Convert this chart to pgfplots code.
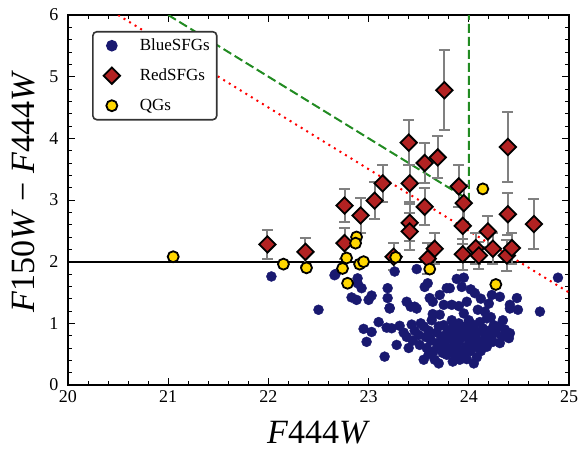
\documentclass[border=0pt]{standalone}
\usepackage{fontspec}
\setmainfont{Liberation Serif}
\usepackage{pgfplots}
\pgfplotsset{compat=1.18}
\definecolor{navyblue}{HTML}{191970}
\definecolor{firebrick}{HTML}{B22222}
\definecolor{goldc}{HTML}{FFD700}
\definecolor{forestg}{HTML}{228B22}
\pgfplotstableread{
x y ey
21.99 2.28 0.23
22.37 2.16 0.23
22.76 2.30 0.25
22.76 2.91 0.27
22.92 2.75 0.28
23.06 2.99 0.30
23.14 3.27 0.30
23.25 2.08 0.22
23.40 3.93 0.37
23.41 3.27 0.30
23.41 2.63 0.30
23.41 2.49 0.30
23.56 3.60 0.33
23.56 2.89 0.30
23.59 2.05 0.25
23.66 2.21 0.25
23.69 3.69 0.34
23.756 4.78 0.65
23.90 3.22 0.34
23.95 2.95 0.30
23.94 2.58 0.30
23.94 2.12 0.25
24.07 2.22 0.25
24.10 2.10 0.22
24.19 2.49 0.25
24.24 2.21 0.25
24.38 2.10 0.25
24.43 2.22 0.25
24.39 3.86 0.57
24.39 2.77 0.34
24.65 2.61 0.41
}\redtab
\pgfplotstableread{
x y
21.05 2.08
22.15 1.96
22.38 1.90
22.78 2.06
22.74 1.89
22.79 1.65
22.88 2.40
22.87 2.30
22.91 1.96
22.95 2.00
23.27 2.07
23.61 1.88
24.14 3.18
24.27 1.63
}\qgtab
\begin{document}
\begin{tikzpicture}
\path[use as bounding box] (-68pt,-67pt) rectangle (518pt,385pt);
\begin{axis}[
  name=ax,
  scale only axis,
  width=501pt, height=370pt,
  xmin=20, xmax=25, ymin=0, ymax=6,
  xtick={20,21,22,23,24,25},
  ytick={0,1,2,3,4,5,6},
  minor x tick num=4, minor y tick num=4,
  tick align=inside,
  xtick pos=both, ytick pos=both,
  major tick length=7pt, minor tick length=4pt,
  every tick/.style={black, line width=1pt},
  axis line style={black, line width=1.3pt},
  /pgf/number format/assume math mode=true,
  tick label style={font=\fontsize{18}{18}\selectfont},
  xticklabel style={yshift=-2pt},
  yticklabel style={xshift=-6pt},
  xlabel={\textit{F}444\textit{W}},
  ylabel={\textit{F}150\textit{W} − \textit{F}444\textit{W}},
  label style={font=\fontsize{34}{34}\selectfont},
  xlabel style={at={(axis description cs:0.5,-0.159)}, anchor=base},
  ylabel style={at={(axis description cs:-0.066,0.523)}, anchor=base, rotate=0},
  legend cell align=left,
  legend image code/.code={%
    \path[draw=none, fill=none] (0pt,-9pt) rectangle (40pt,9pt);
    \draw[#1] plot coordinates {(13pt,0pt)};},
  legend style={at={(rel axis cs:0.048,0.957)}, anchor=north west,
    draw=black!80, line width=1.6pt, rounded corners=4pt, fill=white,
    font=\fontsize{17}{17}\selectfont, row sep=12pt, inner xsep=6pt, inner ysep=5pt,
    nodes={inner xsep=1pt}},
]
\addplot[black, line width=1.8pt, forget plot] coordinates {(20,2) (25,2)};
\addplot[red, line width=2pt, dash pattern=on 2pt off 4.5pt, forget plot] coordinates {(20.5,6) (25,1.5)};
\addplot[forestg, line width=2pt, dash pattern=on 9pt off 4pt, forget plot] coordinates {(21,6) (24,3) (24,6)};
\addplot[only marks, mark=*, mark size=5pt, draw=navyblue, fill=navyblue, mark options={draw=navyblue, fill=navyblue}] coordinates {
(22.03,1.76) (22.50,1.22) (22.66,1.78) (22.67,1.80) (22.89,1.73) (22.93,1.57) (22.89,1.65)
(23.26,1.84) (23.48,1.88) (23.19,1.57) (22.83,1.42) (22.88,1.38) (23.00,1.38) (23.03,1.45)
(23.19,1.41) (23.21,1.25) (23.38,1.35) (23.46,1.27) (23.56,1.59) (23.59,1.65) (23.61,1.41)
(23.64,1.35) (23.71,1.46) (23.75,1.30) (23.78,1.57) (23.88,1.72) (23.95,1.74) (23.93,1.59)
(24.06,1.49) (24.23,1.46) (24.31,1.43) (24.48,1.41) (24.41,1.30) (24.89,1.74) (23.81,1.57)
(23.83,1.30) (24.09,1.22) (24.16,1.19) (24.49,1.22) (24.71,1.19)
(23.21,1.24) (23.48,1.24) (23.42,1.27) (23.10,1.02) (22.95,0.91) (23.03,0.86) (22.98,0.70)
(23.18,0.93) (23.23,0.92) (23.31,0.96) (23.43,0.98) (23.38,0.78) (23.28,0.65) (23.16,0.46)
(23.50,0.81) (23.51,0.65) (23.61,0.76) (23.58,0.60) (23.55,0.41) (23.66,0.41) (23.63,1.05)
(23.71,1.14) (23.75,0.97) (23.78,0.84) (23.68,0.68) (23.76,0.70) (23.78,0.49)
(23.95,1.16) (24.18,1.08) (24.34,1.05) (24.41,1.24) (24.41,0.84) (24.40,0.76) (24.31,0.68)
(24.23,0.81) (24.13,0.65) (24.01,0.70) (23.95,0.49) (23.91,0.41) (23.85,0.97) (23.88,0.92)
(24.05,0.92) (24.15,0.86) (24.25,0.97) (23.85,0.65) (23.86,0.49)
(23.55,0.95) (23.60,0.88) (23.62,0.72) (23.65,0.55) (23.68,0.85) (23.70,0.95) (23.72,0.62)
(23.73,0.78) (23.74,0.52) (23.77,0.60) (23.80,0.88) (23.81,0.75) (23.82,0.58) (23.83,1.05)
(23.84,0.38) (23.87,0.80) (23.88,0.60) (23.90,0.70) (23.90,1.00) (23.92,0.85) (23.93,0.55)
(23.95,0.78) (23.96,0.95) (23.97,0.62) (23.98,0.42) (24.00,0.85) (24.00,1.05) (24.02,0.55)
(24.03,0.75) (24.04,0.98) (24.06,0.62) (24.08,0.85) (24.08,0.45) (24.10,0.72) (24.11,1.02)
(24.12,0.55) (24.14,0.92) (24.16,0.75) (24.18,0.62) (24.20,0.88) (24.22,1.10) (24.24,0.70)
(24.27,0.85) (24.30,0.95) (24.33,0.78) (24.36,0.90) (23.57,0.78) (23.52,1.00) (23.46,0.88)
(23.44,0.72) (23.40,0.60) (23.35,0.85) (23.64,1.15) (23.70,0.35) (23.60,0.50) (24.05,0.35)
(23.98,1.35) (24.02,1.55) (24.12,1.40) (23.90,1.28) (24.20,1.32)
};
\addlegendentry{BlueSFGs}
\addplot[forget plot, only marks, mark=none, error bars/.cd, y dir=both, y explicit,
  error bar style={draw=gray, line width=2pt},
  error mark options={draw=gray, rotate=90, mark size=5.5pt, line width=2pt}]
  table[x=x, y=y, y error=ey] {\redtab};
\addplot[only marks, mark=square*, mark size=5.8pt, mark options={rotate=45, fill=firebrick, draw=black, line width=1.8pt}] table[x=x, y=y] {\redtab};
\addlegendentry{RedSFGs}
\addplot[only marks, mark=*, mark size=5.5pt, mark options={fill=goldc, draw=black, line width=1.8pt}] table[x=x, y=y] {\qgtab};
\addlegendentry{QGs}
\end{axis}
\end{tikzpicture}
\end{document}
